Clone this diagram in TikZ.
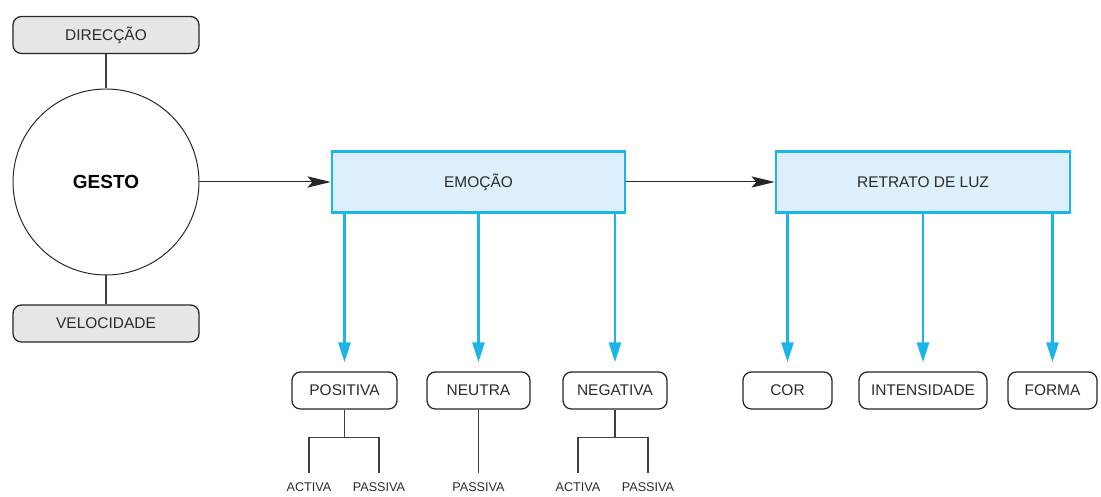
\documentclass[tikz,border=0pt]{standalone}
\usepackage{fontspec}
\setmainfont{Liberation Sans}
\usetikzlibrary{arrows.meta}
\definecolor{lightcyan}{HTML}{DCEFFA}
\definecolor{cyanline}{HTML}{1EB4EA}
\definecolor{lightgray}{HTML}{E6E6E6}
\definecolor{darktext}{HTML}{2B2B2B}
\tikzset{
  /tikz/.cd,
  pill/.style={draw=black!85,line width=0.9pt,rounded corners=6pt,minimum height=0.925cm,text=darktext,font=\fontsize{11}{13}\selectfont},
  topic/.style={draw=cyanline,line width=1.8pt,fill=lightcyan,minimum height=1.525cm,text=darktext,font=\fontsize{11}{13}\selectfont},
  flow/.style={draw=cyanline,line width=2pt,-{Triangle[length=0.5cm,width=0.3cm]}}
}

\begin{document}
\begin{tikzpicture}[tag/.style={anchor=north,inner xsep=0pt,inner ysep=0.24cm,text=darktext,font=\fontsize{9}{10}\selectfont},
                    twig/.style={draw=black!75,line width=1pt},
                    pointer/.style={draw=black!85,line width=0.7pt,-{Stealth[length=0.58cm,width=0.28cm,inset=0.12cm]}}]
      \useasboundingbox (0,0) rectangle (27.525,12.425);

      \node[pill,fill=lightgray,minimum width=4.65cm] (direccao) at (2.65,11.55) {DIRECÇÃO};
      \node[draw=black!85,line width=0.7pt,circle,minimum size=4.65cm,font=\bfseries\fontsize{13.5}{15}\selectfont] (gesto) at (2.65,7.875) {GESTO};
      \node[pill,fill=lightgray,minimum width=4.65cm] (velocidade) at (2.65,4.3375) {VELOCIDADE};
      \draw[twig] (direccao) -- (gesto);
      \draw[twig] (gesto) -- (velocidade);

      \node[topic,minimum width=7.325cm] (emocao) at (11.9625,7.875) {EMOÇÃO};
      \node[topic,minimum width=7.35cm] (retrato) at (23.075,7.875) {RETRATO DE LUZ};
      \draw[pointer] (gesto) -- (emocao);
      \draw[pointer] (emocao) -- (retrato);

      \node[pill,minimum width=2.625cm] (positiva) at (8.6125,2.6625) {POSITIVA};
      \node[pill,minimum width=2.575cm] (neutra) at (11.9625,2.6625) {NEUTRA};
      \node[pill,minimum width=2.6cm] (negativa) at (15.375,2.6625) {NEGATIVA};
      \node[pill,minimum width=2.225cm] (cor) at (19.6875,2.6625) {COR};
      \node[pill,minimum width=3.2cm] (intensidade) at (23.075,2.6625) {INTENSIDADE};
      \node[pill,minimum width=2.225cm] (forma) at (26.3125,2.6625) {FORMA};

      \foreach \leaf in {positiva,neutra,negativa}
        \draw[flow] (emocao.south -| \leaf.north) -- ([yshift=0.225cm]\leaf.north);
      \foreach \leaf in {cor,intensidade,forma}
        \draw[flow] (retrato.south -| \leaf.north) -- ([yshift=0.225cm]\leaf.north);

      \node[tag] (posact) at (7.725,0.6) {ACTIVA};
      \node[tag] (pospas) at (9.475,0.6) {PASSIVA};
      \node[tag] (neupas) at (11.9625,0.6) {PASSIVA};
      \node[tag] (negact) at (14.45,0.6) {ACTIVA};
      \node[tag] (negpas) at (16.2,0.6) {PASSIVA};

      \draw[twig] (positiva.south) -- ++(0,-0.7) coordinate (posjoin);
      \draw[twig] (posact.north) |- (posjoin) -| (pospas.north);
      \draw[twig] (neutra.south) -- (neupas.north);
      \draw[twig] (negativa.south) -- ++(0,-0.7) coordinate (negjoin);
      \draw[twig] (negact.north) |- (negjoin) -| (negpas.north);
    \end{tikzpicture}
\end{document}
